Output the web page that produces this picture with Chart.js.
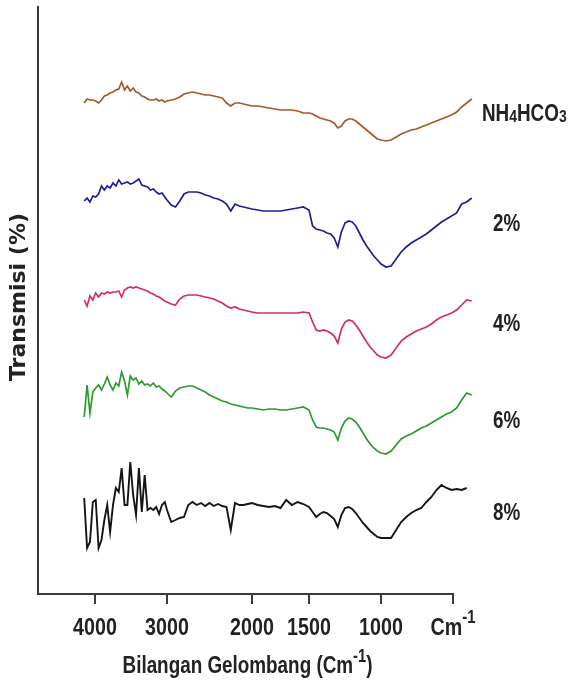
<!DOCTYPE html>
<html lang="en">
<head>
<meta charset="UTF-8">
<title>Spektra FTIR</title>
<style>
    html, body { margin: 0; padding: 0; background: #fff; }
    #wrap { width: 571px; height: 681px; }
</style>
</head>
<body>
<div id="wrap"><canvas id="ftirChart"></canvas></div>

<script src="https://cdn.jsdelivr.net/npm/chart.js"></script>
<script>
    // wavenumber grid (cm-1), denser where the spectra are noisy
    const wavenumbers = [
        4150, 4110, 4070, 4030, 3990, 3950, 3910, 3870, 3830, 3790, 3750, 3710, 3670, 3630, 3590,
        3550, 3510, 3470, 3430, 3390, 3350, 3310, 3270, 3230, 3190, 3150, 3110, 3070, 3030,
        3000, 2950, 2900, 2850, 2800, 2750, 2700, 2650, 2600, 2550, 2500, 2450, 2400, 2350, 2300,
        2250, 2200, 2150, 2100, 2050,
        2000, 1950, 1900, 1850, 1800, 1750, 1700, 1650, 1600, 1550,
        1500, 1475, 1450, 1425, 1400, 1375, 1350, 1325, 1300, 1275, 1250, 1225, 1200, 1175, 1150,
        1125, 1100, 1075, 1050, 1025,
        1000, 965, 930, 895, 860, 825, 790, 755, 720, 685, 650, 615, 580, 545, 510, 475, 440, 405, 370
    ];

    const seriesNames = ['NH4HCO3', '2%', '4%', '6%', '8%'];

    // transmission, stacked (arbitrary units, each trace shifted)
    const nh4hco3 = [
        497, 501, 500, 500, 499, 497, 500, 504, 505, 507, 508, 510, 511, 518, 510, 514, 509, 512, 508, 507,
        504, 503, 501, 500, 500, 501, 499, 500, 498,
        499, 500, 501, 503, 506, 507, 508, 507, 506, 505, 505, 504, 503, 502, 497, 494, 497, 497, 496, 495,
        494, 494, 493, 492, 491, 490, 490, 490, 489, 487,
        487, 486, 484, 482, 481, 480, 479, 477, 472, 474, 479, 481, 481, 479, 476, 473, 470, 467, 464, 461,
        460, 459, 460, 463, 466, 468, 470, 471, 473, 475, 477, 479, 481, 483, 485, 488, 493, 497, 501
    ];
    const sample2 = [
        399, 402, 398, 404, 403, 406, 414, 410, 414, 412, 417, 414, 420, 416, 417, 418, 416, 417, 419, 421,
        415, 414, 413, 410, 411, 408, 406, 407, 403,
        400, 395, 393, 399, 406, 408, 408, 408, 407, 405, 404, 402, 401, 399, 396, 389, 396, 394, 393, 392,
        391, 390, 389, 389, 389, 389, 390, 391, 392, 393,
        390, 374, 371, 370, 369, 367, 366, 362, 353, 368, 377, 379, 378, 374, 367, 360, 354, 349, 344, 340,
        336, 333, 334, 341, 348, 353, 357, 360, 363, 366, 370, 374, 378, 381, 384, 387, 396, 398, 402
    ];
    const sample4 = [
        300, 294, 304, 300, 307, 303, 307, 306, 308, 307, 308, 308, 309, 303, 310, 312, 313, 312, 313, 312,
        311, 310, 309, 307, 306, 304, 303, 301, 299,
        298, 296, 295, 301, 304, 305, 305, 305, 304, 303, 302, 301, 299, 297, 294, 292, 293, 291, 290, 289,
        288, 287, 287, 287, 287, 287, 287, 287, 287, 288,
        287, 278, 270, 269, 270, 269, 267, 264, 257, 271, 278, 280, 279, 275, 270, 264, 258, 253, 249, 245,
        243, 242, 245, 252, 259, 263, 266, 269, 271, 273, 276, 280, 283, 285, 287, 290, 295, 300, 299
    ];
    const sample6 = [
        183, 215, 187, 208, 212, 215, 210, 216, 223, 215, 210, 217, 214, 228, 219, 205, 224, 220, 222, 216,
        219, 215, 216, 214, 217, 213, 214, 211, 209,
        207, 203, 209, 212, 213, 214, 214, 212, 210, 208, 205, 203, 201, 199, 198, 196, 195, 194, 193, 192,
        192, 191, 190, 191, 191, 190, 190, 191, 192, 193,
        190, 180, 173, 172, 172, 171, 170, 168, 160, 172, 179, 182, 181, 178, 173, 167, 161, 156, 152, 149,
        147, 146, 149, 155, 161, 164, 166, 169, 172, 174, 177, 180, 183, 186, 188, 192, 200, 207, 205
    ];
    const sample8 = [
        102, 52, 58, 98, 100, 52, 60, 80, 95, 68, 95, 112, 108, 132, 95, 95, 138, 105, 85, 132,
        88, 125, 90, 92, 90, 93, 86, 95, 98,
        90, 78, 80, 82, 83, 95, 98, 95, 97, 94, 97, 94, 96, 94, 93, 70, 97, 95, 95, 96,
        97, 95, 94, 93, 94, 92, 100, 95, 98, 96,
        93, 88, 83, 86, 88, 87, 84, 81, 73, 85, 92, 93, 91, 87, 82, 77, 73, 69, 66, 63,
        62, 62, 62, 70, 78, 83, 87, 90, 92, 98, 103, 110, 115, 112, 110, 111, 110, 112, null
    ];

    const tickValues = [4000, 3000, 2000, 1500, 1000, 500];
    const tickLabels = ['4000', '3000', '2000', '1500', '1000', 'Cm-1'];

    // layout
    const tickSpots = [57, 129, 214, 271, 343, 415];   // where each tick sits along the axis
    const labelLevels = [487, 377, 277, 180, 88];       // height of each trace name
    const lineColors = ['#a5582a', '#1f1f95', '#d42a6b', '#2b9b2b', '#151515'];
    const axisColor = '#3a3a3a';
    const textColor = '#222';
    const FONT = "'Liberation Sans', Arial, sans-serif";
    const NARROW = 0.82;   // squeeze to look like Arial Narrow

    const seriesValues = [nh4hco3, sample2, sample4, sample6, sample8];

    // the figure's x axis is uneven: piecewise linear between the labelled ticks
    function toAxis(wn) {
        let i = 0;
        while (i < tickValues.length - 2 && wn < tickValues[i + 1]) i++;
        const w0 = tickValues[i], w1 = tickValues[i + 1];
        return tickSpots[i] + (wn - w0) / (w1 - w0) * (tickSpots[i + 1] - tickSpots[i]);
    }

    // draws condensed bold text runs side by side (for superscripts / subscripts)
    function drawRuns(ctx, runs, x, y, align) {
        let total = 0;
        runs.forEach(r => {
            ctx.font = 'bold ' + r.size + 'px ' + FONT;
            r.w = ctx.measureText(r.t).width;
            total += r.w;
        });
        const start = align === 'center' ? x - total * NARROW / 2 : x;
        ctx.save();
        ctx.translate(start, y);
        ctx.scale(NARROW, 1);
        ctx.textAlign = 'left';
        ctx.textBaseline = 'alphabetic';
        let cx = 0;
        runs.forEach(r => {
            ctx.font = 'bold ' + r.size + 'px ' + FONT;
            ctx.fillText(r.t, cx, r.dy || 0);
            cx += r.w;
        });
        ctx.restore();
    }

    const textPlugin = {
        id: 'textPlugin',
        afterDraw(chart) {
            const ctx = chart.ctx;
            const area = chart.chartArea;
            const xs = chart.scales.x;
            const ys = chart.scales.y;
            ctx.save();
            ctx.fillStyle = textColor;

            // y title
            ctx.save();
            ctx.translate(19, 297);
            ctx.rotate(-Math.PI / 2);
            ctx.font = "bold 22px 'DejaVu Sans', sans-serif";
            ctx.textAlign = 'center';
            ctx.textBaseline = 'middle';
            ctx.fillText('Transmisi (%)', 0, 0);
            ctx.restore();

            // tick labels
            tickLabels.forEach((lab, i) => {
                const px = xs.getPixelForValue(tickSpots[i]);
                if (lab === 'Cm-1') {
                    drawRuns(ctx, [
                        { t: 'Cm', size: 24 },
                        { t: '-1', size: 18, dy: -12 }
                    ], px, area.bottom + 41, 'center');
                } else {
                    drawRuns(ctx, [{ t: lab, size: 24 }], px, area.bottom + 41, 'center');
                }
            });

            // x title
            drawRuns(ctx, [
                { t: 'Bilangan Gelombang (Cm', size: 23 },
                { t: '-1', size: 18, dy: -11 },
                { t: ')', size: 23 }
            ], (area.left + area.right) / 2 + 2, area.bottom + 79, 'center');

            // trace names
            seriesNames.forEach((name, k) => {
                const y = ys.getPixelForValue(labelLevels[k]) + 8;
                if (name === 'NH4HCO3') {
                    drawRuns(ctx, [
                        { t: 'NH', size: 23 },
                        { t: '4', size: 17, dy: 1 },
                        { t: 'HCO', size: 23 },
                        { t: '3', size: 17, dy: 1 }
                    ], area.right + 29, y, 'left');
                } else {
                    drawRuns(ctx, [{ t: name, size: 23 }], area.right + 40, y, 'left');
                }
            });
            ctx.restore();
        }
    };

    const datasets = seriesNames.map((name, k) => ({
        label: name,
        data: wavenumbers.map((wn, j) => ({ x: toAxis(wn), y: seriesValues[k][j] })),
        borderColor: lineColors[k],
        borderWidth: k === 4 ? 1.9 : 1.7,
        pointRadius: 0,
        tension: 0,
        clip: false,
        spanGaps: false
    }));

    new Chart(document.getElementById('ftirChart'), {
        type: 'line',
        data: { datasets: datasets },
        options: {
            responsive: true,
            maintainAspectRatio: false,
            animation: false,
            layout: { padding: { top: 7, right: 118, bottom: 0, left: 0 } },
            plugins: {
                legend: { display: false },
                tooltip: { enabled: false }
            },
            scales: {
                x: {
                    type: 'linear',
                    bounds: 'data',
                    // range set here (not via min/max) so points past the axis end are still drawn
                    afterDataLimits: scale => { scale.min = 0; scale.max = tickSpots[5]; },
                    afterBuildTicks: scale => {
                        scale.ticks = tickSpots.map(v => ({ value: v }));
                    },
                    afterFit: scale => { scale.height = 87; },
                    ticks: {
                        autoSkip: false,
                        maxRotation: 0,
                        callback: () => ''
                    },
                    grid: {
                        drawOnChartArea: false,
                        drawTicks: true,
                        tickLength: 10,
                        color: axisColor,
                        lineWidth: 2
                    },
                    border: { display: true, color: axisColor, width: 2 }
                },
                y: {
                    min: 6,
                    max: 593,
                    afterFit: scale => { scale.width = 38; },
                    ticks: { display: false },
                    grid: { drawOnChartArea: false, drawTicks: false, color: axisColor },
                    border: { display: true, color: axisColor, width: 2 }
                }
            }
        },
        plugins: [textPlugin]
    });
</script>
</body>
</html>
